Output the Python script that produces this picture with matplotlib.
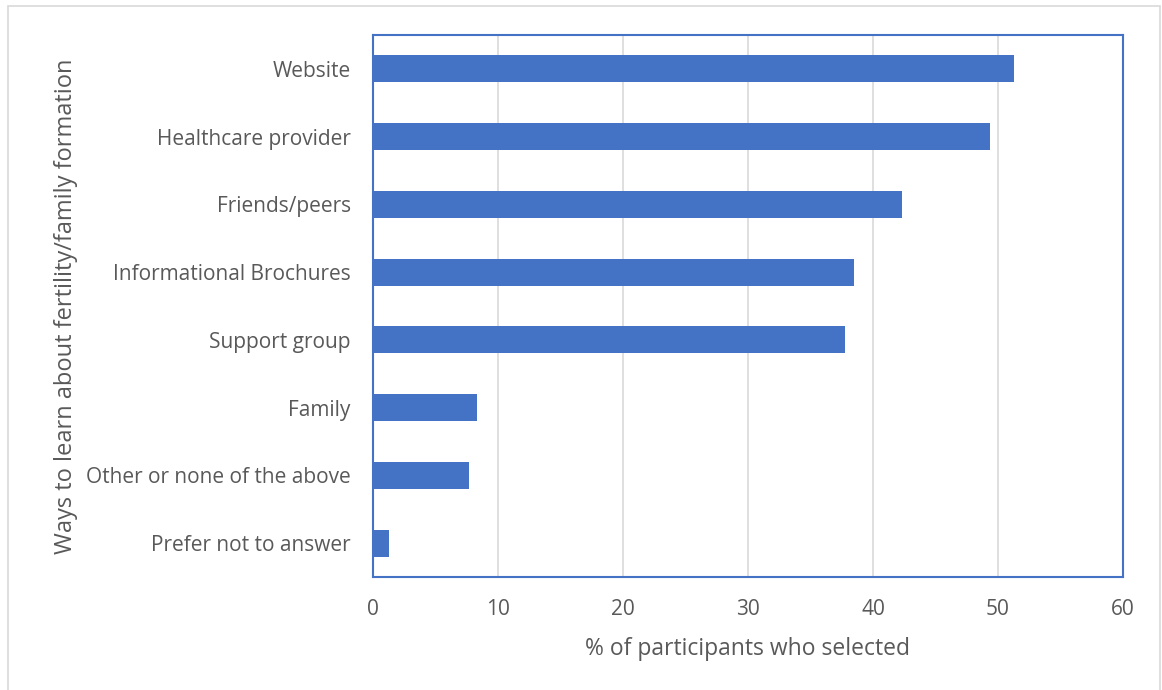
import matplotlib
matplotlib.use("Agg")
import matplotlib.pyplot as plt
from matplotlib.patches import Rectangle

categories = ["Website", "Healthcare provider", "Friends/peers", "Informational Brochures",
              "Support group", "Family", "Other or none of the above", "Prefer not to answer"]
values = [51.3, 49.4, 42.3, 38.5, 37.8, 8.3, 7.7, 1.3]
xticks = [0, 10, 20, 30, 40, 50, 60]

plt.rcParams['font.family'] = ['Open Sans', 'DejaVu Sans']
W, H = 1162, 690
fig = plt.figure(figsize=(W/100, H/100), dpi=100)
fig.patches.append(Rectangle((8/W, -0.05), (1160-8)/W, 1.05 - 6/H, transform=fig.transFigure,
                             fill=False, edgecolor='#d9d9d9', linewidth=1.2))
ax = fig.add_axes([373/W, 1 - 577/H, (1123-373)/W, (577-35)/H])

y = list(range(len(categories)))
ax.barh(y, values, height=0.4, color='#4472C4', zorder=3)
ax.set_ylim(len(categories) - 0.5, -0.5)
ax.set_xlim(0, 60)
ax.set_xticks(xticks)
ax.set_yticks(y)
ax.set_yticklabels(categories)
ax.grid(axis='x', color='#d9d9d9', linewidth=1.2, zorder=0)
for s in ax.spines.values():
    s.set_color('#4472C4')
    s.set_linewidth(1.5)
ax.tick_params(axis='both', length=0, colors='#595959', labelsize=15)
ax.tick_params(axis='y', pad=16)
ax.tick_params(axis='x', pad=16)
ax.set_xlabel("% of participants who selected", fontsize=16.5, color='#595959', labelpad=12)
ax.set_ylabel("Ways to learn about fertility/family formation", fontsize=17, color='#595959', labelpad=6)
fig.savefig("out.png", dpi=100)
